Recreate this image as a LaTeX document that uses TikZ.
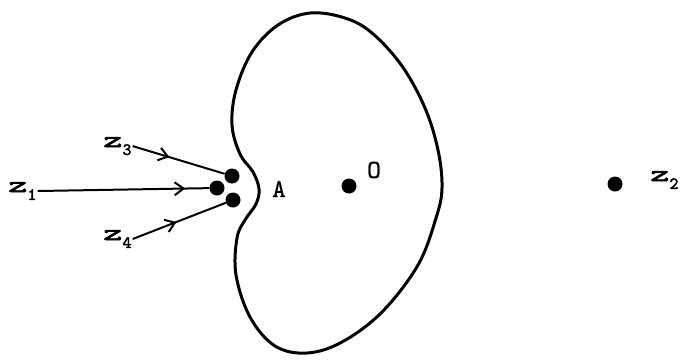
\documentclass[tikz,border=0pt]{standalone}
\usepackage{fontspec}
\newfontfamily\typebold[FakeBold=2.5]{lmmono10-regular.otf}
\newfontfamily\typeface[FakeBold=1]{lmmono10-regular.otf}
\usetikzlibrary{arrows.meta,decorations.markings}
\newcommand{\zname}[1]{\scalebox{1.6}[1]{z}\raisebox{-0.8ex}{\fontsize{17}{17}\selectfont #1}}
\tikzset{
  ptdot/.style={circle, fill=black, inner sep=0pt, minimum size=15pt},
  zlabel/.style={font=\fontsize{23}{23}\selectfont\typebold, inner sep=1pt, anchor=base west},
  ptlabel/.style={font=\fontsize{26}{26}\selectfont\typeface, inner sep=0pt},
  inflow/.style={line width=2pt, postaction={decorate},
    decoration={markings, mark=at position #1 with {\arrow{Straight Barb[length=9pt,width=13pt,line width=2pt]}}}},
  kidney/.style={line width=3pt}
}
\begin{document}
\begin{tikzpicture}[x=1pt, y=-1pt]
  \useasboundingbox (0,0) rectangle (680,360);
  % the domain
  \draw[kidney] plot[smooth cycle, tension=0.6] coordinates {
    (310,13) (345,18) (372,33) (402,66) (425,108) (438,150) (442,188)
    (436,218) (418,265) (382,312) (342,342) (307,353) (275,346)
    (250,317) (236,275) (237,238) (245,220) (256,204) (259,189)
    (253,172) (240,154) (232,125) (236,90) (252,52) (278,25)};
  % points
  \node[ptdot] (origin) at (349,186) {};
  \node[ptdot] (zone) at (217,188) {};
  \node[ptdot] (zthree) at (232,176) {};
  \node[ptdot] (zfour) at (233,200) {};
  \node[ptdot] (ztwo) at (615,184) {};
  % labels
  \node[ptlabel] (alab) at (279,189) {A};
  \node[ptlabel] (olab) at (374,170) {O};
  \node[zlabel] (zonelab) at (7,192) {\zname{1}};
  \node[zlabel] (zthreelab) at (102,147) {\zname{3}};
  \node[zlabel] (zfourlab) at (102,240) {\zname{4}};
  \node[zlabel] (ztwolab) at (649,181) {\zname{2}};
  % approach paths
  \draw[inflow=0.86] (zonelab.east) -- (zone);
  \draw[inflow=0.4] (zthreelab.east) -- (zthree);
  \draw[inflow=0.47] (zfourlab.east) -- (zfour);
\end{tikzpicture}
\end{document}
